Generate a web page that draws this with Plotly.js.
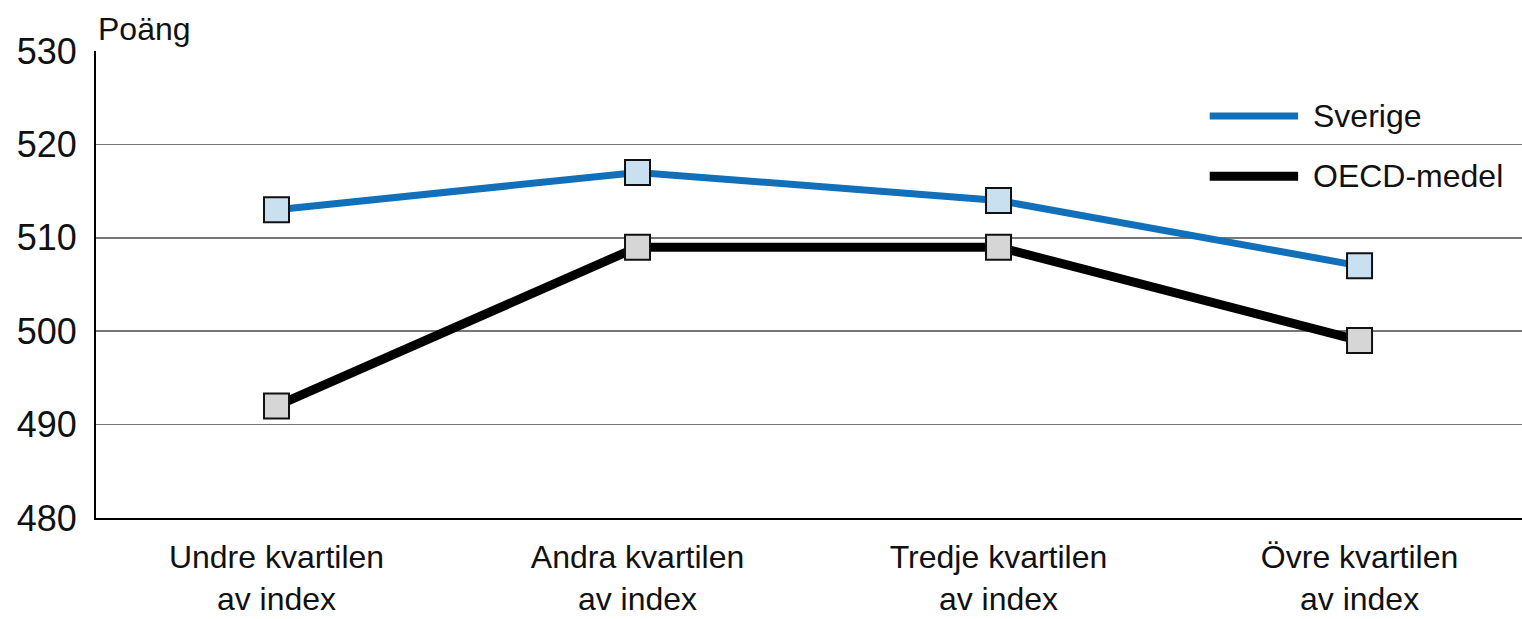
<!DOCTYPE html>
<html><head><meta charset="utf-8">
<script src="https://cdn.plot.ly/plotly-3.0.1.min.js"></script>
<style>html,body{margin:0;padding:0;background:#fff}#c{width:1522px;height:619px}</style>
</head><body><div id="c"></div>
<script>
const categories = ["Undre kvartilen<br>av index", "Andra kvartilen<br>av index", "Tredje kvartilen<br>av index", "Övre kvartilen<br>av index"];
const sverige = [513, 517, 514, 507];
const oecd = [492, 509, 509, 499];
const seriesNames = ["Sverige", "OECD-medel"];
const yTicks = [480, 490, 500, 510, 520, 530];

const FONT = "Liberation Sans, Arial, sans-serif";
const xIdx = categories.map((_, i) => i);

const traces = [
  {x: xIdx, y: oecd, name: seriesNames[1], type: "scatter", mode: "lines+markers",
   line: {color: "#000000", width: 9},
   marker: {symbol: "square", size: 25, color: "#d6d6d6", line: {color: "#111", width: 2}},
   showlegend: false, hoverinfo: "skip"},
  {x: xIdx, y: sverige, name: seriesNames[0], type: "scatter", mode: "lines+markers",
   line: {color: "#1170b9", width: 7},
   marker: {symbol: "square", size: 25, color: "#c9e0f1", line: {color: "#111", width: 2}},
   showlegend: false, hoverinfo: "skip"}
];

const legendY = [0.861, 0.732];
const legendColors = ["#1170b9", "#000000"];
const legendWidths = [7, 9];
const shapes = [];
const annotations = [];
seriesNames.forEach((n, i) => {
  shapes.push({type: "line", xref: "paper", yref: "paper", x0: 0.781, x1: 0.843, y0: legendY[i], y1: legendY[i],
    line: {color: legendColors[i], width: legendWidths[i]}});
  annotations.push({xref: "paper", yref: "paper", x: 0.852, y: legendY[i], xanchor: "left", yanchor: "middle",
    text: n, showarrow: false, font: {family: FONT, size: 32, color: "#111"}});
});
annotations.push({xref: "paper", yref: "paper", x: 0, y: 1, xanchor: "left", yanchor: "bottom", yshift: 2,
  text: "Poäng", showarrow: false, font: {family: FONT, size: 32, color: "#111"}});

const layout = {
  width: 1522, height: 619,
  margin: {l: 96, r: 0, t: 51, b: 101},
  paper_bgcolor: "#fff", plot_bgcolor: "#fff",
  font: {family: FONT, size: 32, color: "#111"},
  xaxis: {range: [-0.5, 3.45], tickvals: xIdx, ticktext: categories, showgrid: false, zeroline: false,
    showline: true, linecolor: "#000", linewidth: 2, ticks: "", ticklabelstandoff: 10,
    tickfont: {family: FONT, size: 32, color: "#111"}, fixedrange: true},
  yaxis: {range: [480, 530], tickvals: yTicks, showgrid: true, gridcolor: "#777", gridwidth: 1.5,
    zeroline: false, showline: true, linecolor: "#000", linewidth: 2, ticks: "",
    ticklabelstandoff: 10, tickfont: {family: FONT, size: 36, color: "#111"}, fixedrange: true},
  shapes: shapes, annotations: annotations, showlegend: false
};
Plotly.newPlot("c", traces, layout, {displayModeBar: false, staticPlot: true});
</script></body></html>
